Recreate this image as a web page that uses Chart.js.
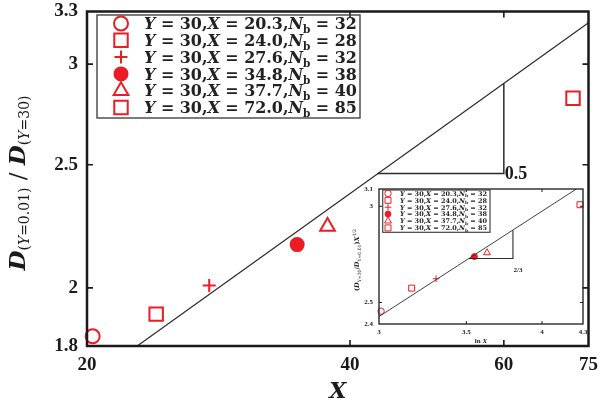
<!DOCTYPE html>
<html>
<head>
<meta charset="utf-8">
<script src="https://cdn.jsdelivr.net/npm/chart.js@4/dist/chart.umd.min.js"></script>
<style>
  body { margin: 0; background: #fff; }
  #wrap { position: relative; width: 600px; height: 403px; }
  #main { position: absolute; left: 0; top: 0; }
  #inset { position: absolute; left: 330px; top: 175px; }
</style>
</head>
<body>
<div id="wrap">
  <canvas id="main" width="600" height="403"></canvas>
  <canvas id="inset" width="265" height="180"></canvas>
</div>
<script>
// values
const markerX = [20.3, 24.0, 27.6, 34.8, 37.7, 72.0];
const markerNb = [32, 28, 32, 38, 40, 85];
const ratioY = [1.832, 1.907, 2.009, 2.163, 2.235, 2.820];
const lnX = [3.011, 3.178, 3.318, 3.550, 3.630, 4.277];
const scaledY = [2.459, 2.569, 2.615, 2.727, 2.747, 3.009];

const fitX = [22.83, 75];
const fitY = [1.8, 3.234];
const slopeX = [43.0, 60, 60];
const slopeY = [2.461, 2.461, 2.897];

const insetFitX = [3, 4.25];
const insetFitY = [2.434, 3.1];
const insetSlopeX = [3.516, 3.8, 3.8];
const insetSlopeY = [2.717, 2.717, 2.867];

const xTicks = [20, 40, 60, 75];
const yTicks = [1.8, 2, 2.5, 3, 3.3];
const insetXTicks = [3, 3.5, 4, 4.3];
const insetYTicks = [2.4, 2.5, 3, 3.1];

// marker look
const markerStyles = ["circle", "rect", "cross", "circle", "triangle", "rect"];
const markerFilled = [false, false, false, true, false, false];
const mainSizes = [7, 9.5, 6.5, 6.5, 8.5, 9.5];
const insetSizes = [3.2, 4.2, 3.3, 3, 4, 4.2];

const RED = "#ec1c24";
const INK = "#1a1a1a";
const TIMES = "'Liberation Serif', 'Times New Roman', serif";
const DEJA = "'DejaVu Serif', serif";

function drawMarker(ctx, style, filled, x, y, r, lw) {
  ctx.save();
  ctx.strokeStyle = RED;
  ctx.fillStyle = filled ? RED : "rgba(0,0,0,0)";
  ctx.lineWidth = lw;
  if (Chart.helpers && Chart.helpers.drawPoint) {
    Chart.helpers.drawPoint(ctx, { pointStyle: style, radius: r, rotation: 0, borderWidth: lw }, x, y);
  } else {
    ctx.beginPath();
    ctx.arc(x, y, r, 0, Math.PI * 2);
    if (filled) ctx.fill();
    ctx.stroke();
  }
  ctx.restore();
}

// runs: [text, font, dy]
function drawRuns(ctx, runs, x, y, align) {
  ctx.textAlign = "left";
  let w = 0;
  runs.forEach(r => { ctx.font = r[1]; w += ctx.measureText(r[0]).width; });
  let cx = align === "center" ? x - w / 2 : x;
  runs.forEach(r => {
    ctx.font = r[1];
    ctx.fillText(r[0], cx, y + (r[2] || 0));
    cx += ctx.measureText(r[0]).width;
  });
  return w;
}

function legendRuns(i, s) {
  const bi = `italic bold ${s}px ${DEJA}`;
  const b = `bold ${s}px ${DEJA}`;
  const sub = `bold ${(s * 0.66).toFixed(2)}px ${DEJA}`;
  return [
    ["Y", bi], [" = 30,", b], ["X", bi],
    [" = " + markerX[i].toFixed(1) + ",", b],
    ["N", bi], ["b", sub, s * 0.25], [" = " + markerNb[i], b]
  ];
}

function runsWidth(ctx, runs) {
  let w = 0;
  runs.forEach(r => { ctx.font = r[1]; w += ctx.measureText(r[0]).width; });
  return w;
}

function drawLegend(ctx, box, markerXpx, textX, rowY0, rowStep, textW, sizes, lw, frameW) {
  ctx.save();
  ctx.strokeStyle = "#444";
  ctx.lineWidth = frameW;
  ctx.strokeRect(box[0], box[1], box[2] - box[0], box[3] - box[1]);
  // pick a size that fills the measured width
  const probe = runsWidth(ctx, legendRuns(0, 10));
  const s = 10 * textW / probe;
  ctx.textBaseline = "alphabetic";
  markerX.forEach((_, i) => {
    const cy = rowY0 + i * rowStep;
    drawMarker(ctx, markerStyles[i], markerFilled[i], markerXpx, cy, sizes[i], lw);
    ctx.fillStyle = "#222";
    drawRuns(ctx, legendRuns(i, s), textX, cy + s * 0.36, "left");
  });
  ctx.restore();
}

function frameAndTicks(chart, xt, yt, len, lw, tickW) {
  const { ctx, chartArea: a, scales: { x, y } } = chart;
  ctx.save();
  ctx.strokeStyle = INK;
  ctx.lineWidth = tickW;
  ctx.beginPath();
  xt.slice(1, -1).forEach(v => {
    const px = x.getPixelForValue(v);
    ctx.moveTo(px, a.bottom); ctx.lineTo(px, a.bottom - len);
    ctx.moveTo(px, a.top); ctx.lineTo(px, a.top + len);
  });
  yt.slice(1, -1).forEach(v => {
    const py = y.getPixelForValue(v);
    ctx.moveTo(a.left, py); ctx.lineTo(a.left + len, py);
    ctx.moveTo(a.right, py); ctx.lineTo(a.right - len, py);
  });
  ctx.stroke();
  ctx.lineWidth = lw;
  ctx.strokeRect(a.left, a.top, a.right - a.left, a.bottom - a.top);
  ctx.restore();
}

const mainDecor = {
  id: "mainDecor",
  afterDatasetsDraw(chart) {
    const { ctx, chartArea: a, scales: { x, y } } = chart;
    frameAndTicks(chart, xTicks, yTicks, 6, 2.5, 1.6);
    drawLegend(ctx, [97, 15, 360, 118], 121, 144, 23.5, 16.8, 213, mainSizes, 2, 1.4);

    ctx.save();
    ctx.fillStyle = INK;
    ctx.textBaseline = "alphabetic";
    // slope label
    ctx.textAlign = "left";
    ctx.font = `bold 18px ${TIMES}`;
    ctx.fillText("0.5", x.getPixelForValue(slopeX[2]) + 1, y.getPixelForValue(slopeY[1]) + 6);
    // x title
    ctx.font = `italic bold 22px ${DEJA}`;
    ctx.textAlign = "center";
    ctx.fillText("X", (a.left + a.right) / 2, 398);
    // y title, rotated
    ctx.translate(25, 183);
    ctx.rotate(-Math.PI / 2);
    const D = `italic bold 23px ${DEJA}`;
    const sub = `14px ${DEJA}`;
    const subI = `italic 14px ${DEJA}`;
    drawRuns(ctx, [
      ["D", D], ["(", sub, 4], ["Y", subI, 4], ["=0.01)", sub, 4],
      [" / ", `23px ${DEJA}`],
      ["D", D], ["(", sub, 4], ["Y", subI, 4], ["=30)", sub, 4]
    ], 0, 0, "center");
    ctx.restore();
  }
};

const insetDecor = {
  id: "insetDecor",
  afterDatasetsDraw(chart) {
    const { ctx, chartArea: a } = chart;
    frameAndTicks(chart, insetXTicks, insetYTicks, 3, 1.3, 1);
    drawLegend(ctx, [52.7, 15, 160, 57.3], 58, 70, 18.4, 6.9, 87, insetSizes, 1, 1.2);

    ctx.save();
    ctx.fillStyle = INK;
    ctx.textBaseline = "alphabetic";
    ctx.font = `bold 7px ${TIMES}`;
    ctx.textAlign = "center";
    ctx.fillText("2/3", 188, 97);
    drawRuns(ctx, [["ln ", `bold 7px ${TIMES}`], ["X", `italic bold 7px ${TIMES}`]], (a.left + a.right) / 2, 168, "center");
    ctx.translate(29, 85);
    ctx.rotate(-Math.PI / 2);
    const f = `bold 6.5px ${DEJA}`, fi = `italic bold 6.5px ${DEJA}`, s = `4.6px ${DEJA}`;
    drawRuns(ctx, [
      ["(", f], ["D", fi], ["Y=30", s, 1.5], ["/", f], ["D", fi], ["Y=0.01", s, 1.5], [")", f],
      ["X", fi], ["1/2", s, -3]
    ], 0, 0, "center");
    ctx.restore();
  }
};

function pointSets(xs, ys, sizes, bw) {
  return xs.map((xv, i) => ({
    data: [{ x: xv, y: ys[i] }],
    pointStyle: markerStyles[i],
    pointRadius: sizes[i],
    pointBorderWidth: bw,
    pointBorderColor: RED,
    pointBackgroundColor: markerFilled[i] ? RED : "rgba(0,0,0,0)",
    showLine: false,
    clip: false
  }));
}

function lineSet(xs, ys, width) {
  return {
    data: xs.map((xv, i) => ({ x: xv, y: ys[i] })),
    showLine: true,
    pointRadius: 0,
    borderColor: "#2b2b2b",
    borderWidth: width,
    fill: false,
    tension: 0
  };
}

function logAxis(min, max, ticks, fontSize, pad, fit) {
  return {
    type: "logarithmic",
    min: min,
    max: max,
    grid: { display: false, drawTicks: false },
    border: { display: false },
    afterBuildTicks: s => { s.ticks = ticks.map(v => ({ value: v })); },
    afterFit: fit,
    ticks: {
      callback: v => String(v),
      font: { family: TIMES, weight: "bold", size: fontSize },
      color: INK,
      padding: pad,
      autoSkip: false,
      maxRotation: 0
    }
  };
}

new Chart(document.getElementById("main"), {
  type: "scatter",
  data: {
    datasets: [
      lineSet(fitX, fitY, 1.2),
      lineSet(slopeX, slopeY, 1.5),
      ...pointSets(markerX, ratioY, mainSizes, 2)
    ]
  },
  options: {
    responsive: false,
    animation: false,
    events: [],
    layout: { padding: { top: 10, right: 10, left: 0, bottom: 0 } },
    plugins: { legend: { display: false }, tooltip: { enabled: false } },
    scales: {
      x: logAxis(20, 75, xTicks, 19, 8, s => { s.height = 57; s.paddingLeft = 0; s.paddingRight = 0; }),
      y: logAxis(1.8, 3.3, yTicks, 19, 9, s => { s.width = 87; s.paddingTop = 0; s.paddingBottom = 0; })
    }
  },
  plugins: [mainDecor]
});

new Chart(document.getElementById("inset"), {
  type: "scatter",
  data: {
    datasets: [
      lineSet(insetFitX, insetFitY, 0.9),
      lineSet(insetSlopeX, insetSlopeY, 1.1),
      ...pointSets(lnX, scaledY, insetSizes, 1)
    ]
  },
  options: {
    responsive: false,
    animation: false,
    events: [],
    layout: { padding: { top: 14, right: 12, left: 0, bottom: 0 } },
    plugins: { legend: { display: false }, tooltip: { enabled: false } },
    scales: {
      x: logAxis(3, 4.3, insetXTicks, 7, 4, s => { s.height = 31; s.paddingLeft = 0; s.paddingRight = 0; }),
      y: logAxis(2.4, 3.1, insetYTicks, 7, 6, s => { s.width = 49; s.paddingTop = 0; s.paddingBottom = 0; })
    }
  },
  plugins: [insetDecor]
});
</script>
</body>
</html>
